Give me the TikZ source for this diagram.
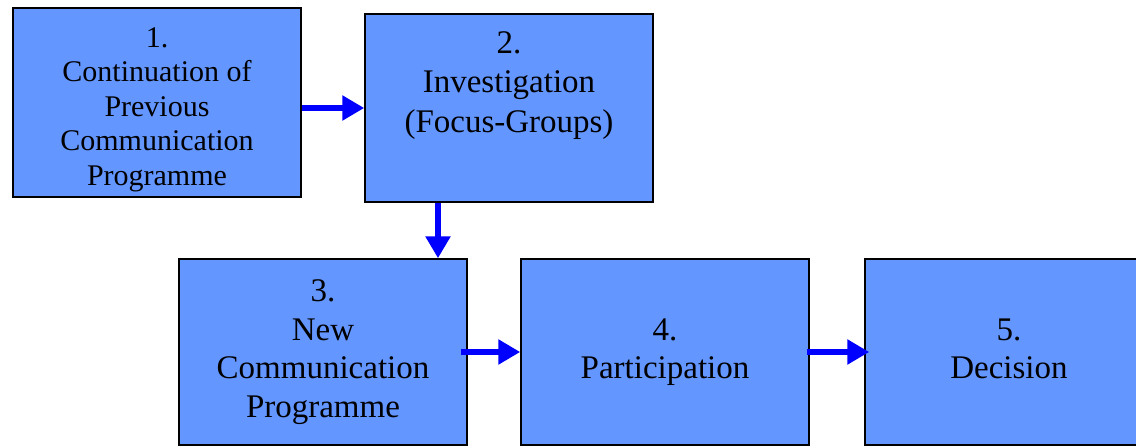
\documentclass[tikz,border=0pt]{standalone}
\usepackage{fontspec}
\setmainfont{Liberation Serif}
\usetikzlibrary{arrows.meta}
\definecolor{boxblue}{RGB}{100,150,255}

\begin{document}
\begin{tikzpicture}[x=1pt,y=1pt,
  stage/.style={draw=black,line width=1.5pt,fill=boxblue,minimum width=288pt,
    align=center,inner sep=0pt,font=\fontsize{33}{38.5}\selectfont},
  flow/.style={draw=blue,line width=5.5pt,-{Triangle[length=22pt,width=24pt]}}]
  \useasboundingbox (0,0) rectangle (1136,-447);

  \node (box1) [stage,minimum height=189pt] at (157,-102.5) {};
  \node (box1txt) [anchor=north,align=center,inner sep=0pt,font=\fontsize{30}{34.5}\selectfont]
    at ([yshift=-20pt]box1.north) {1.\\Continuation of\\Previous\\Communication\\Programme};
  \node (box2) [stage,minimum height=188pt] at (509,-108) {};
  \node (box2txt) [anchor=north,align=center,inner sep=0pt,font=\fontsize{33}{39.5}\selectfont]
    at ([yshift=-18pt]box2.north) {2.\\Investigation\\(Focus-Groups)};
  \node (box3) [stage,minimum height=186pt] at (323,-352) {3.\\New\\Communication\\Programme};
  \node (box4) [stage,minimum height=186pt] at (665,-352) {4.\\Participation};
  \node (box5) [stage,minimum height=186pt] at (1009,-352) {5.\\Decision\vphantom{p}};

  \draw [flow] (box1.east |- box2.west) -- (box2.west);
  \draw [flow] ([xshift=-71pt]box2.south) -- ([xshift=-71pt]box2.south |- box3.north);
  \draw [flow] ([xshift=-7pt]box3.east) -- (box4.west);
  \draw [flow] ([xshift=-3pt]box4.east) -- ([xshift=5pt]box5.west);
\end{tikzpicture}
\end{document}
